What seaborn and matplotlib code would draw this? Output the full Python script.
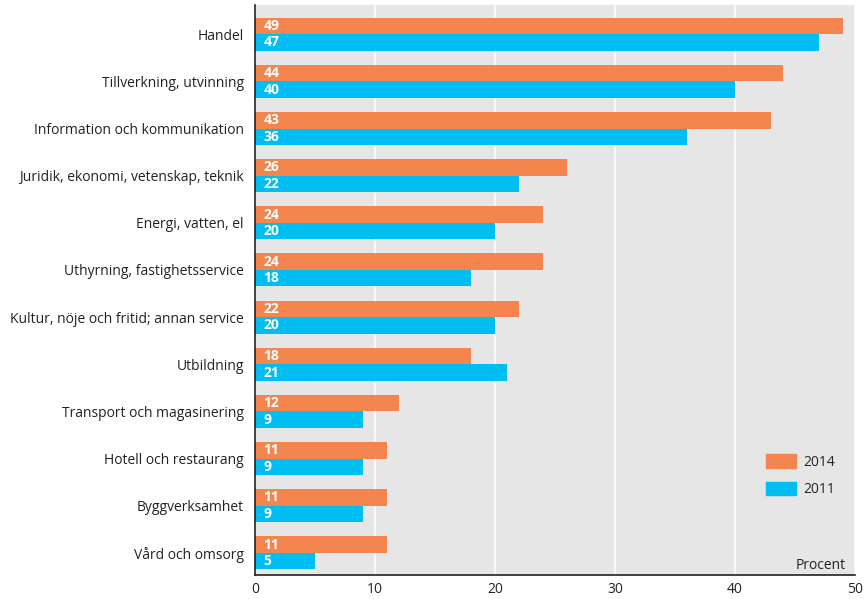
import matplotlib
matplotlib.use("Agg")
import matplotlib.pyplot as plt
import matplotlib.transforms as mtransforms
import seaborn as sns
import pandas as pd

categories = [
    "Handel",
    "Tillverkning, utvinning",
    "Information och kommunikation",
    "Juridik, ekonomi, vetenskap, teknik",
    "Energi, vatten, el",
    "Uthyrning, fastighetsservice",
    "Kultur, nöje och fritid; annan service",
    "Utbildning",
    "Transport och magasinering",
    "Hotell och restaurang",
    "Byggverksamhet",
    "Vård och omsorg",
]
values_2014 = [49, 44, 43, 26, 24, 24, 22, 18, 12, 11, 11, 11]
values_2011 = [47, 40, 36, 22, 20, 18, 20, 21, 9, 9, 9, 5]
years = ["2014", "2011"]
x_ticks = [0, 10, 20, 30, 40, 50]

df = pd.DataFrame({
    "kategori": categories * 2,
    "procent": values_2014 + values_2011,
    "år": ["2014"] * len(categories) + ["2011"] * len(categories),
})

sns.set_theme(style="white")
plt.rcParams["font.family"] = ["Open Sans", "DejaVu Sans"]

colors = {"2014": "#F5854F", "2011": "#00BDF2"}
text_color = "#222222"

fig = plt.figure(figsize=(8.65, 5.99), dpi=100)
ax = fig.add_axes([0.2948, 0.040, 0.6936, 0.9517])
ax.set_facecolor("#E6E6E7")

sns.barplot(data=df, y="kategori", x="procent", hue="år", hue_order=years,
            order=categories, palette=colors, width=0.7, saturation=1,
            linewidth=0, ax=ax, orient="h")

ax.set_xlim(0, 50)
ax.set_ylim(11.47, -0.62)
ax.set_xticks(x_ticks)
ax.set_xticklabels([str(t) for t in x_ticks], fontsize=10, color=text_color)
ax.tick_params(axis="y", labelsize=10, colors=text_color, length=0, pad=8)
ax.tick_params(axis="x", length=0, pad=5)
ax.grid(axis="x", color="white", linewidth=1.2)
ax.set_axisbelow(True)
ax.set_xlabel("")
ax.set_ylabel("")

for s in ["top", "right"]:
    ax.spines[s].set_visible(False)
for s in ["left", "bottom"]:
    ax.spines[s].set_color(text_color)
    ax.spines[s].set_linewidth(1.2)

# value labels just inside the base of each bar
offset = mtransforms.ScaledTranslation(6 / 72, 0, fig.dpi_scale_trans)
for container, vals in zip(ax.containers, [values_2014, values_2011]):
    for bar, v in zip(container, vals):
        yc = bar.get_y() + bar.get_height() / 2
        ax.text(0, yc, str(v), transform=ax.transData + offset,
                ha="left", va="center", fontsize=10, fontweight="bold",
                color="white")

ax.legend_.remove()
handles = [plt.Rectangle((0, 0), 1, 1, color=colors[y]) for y in years]
ax.legend(handles, years, loc="lower right", bbox_to_anchor=(0.99, 0.112),
          frameon=False, fontsize=10, handlelength=2.2, handleheight=1.15,
          labelspacing=0.85, handletextpad=0.5, borderaxespad=0.6)

ax.text(0.985, 0.004, "Procent", transform=ax.transAxes, ha="right",
        va="bottom", fontsize=10, color=text_color)

fig.savefig("out.png", dpi=100)
